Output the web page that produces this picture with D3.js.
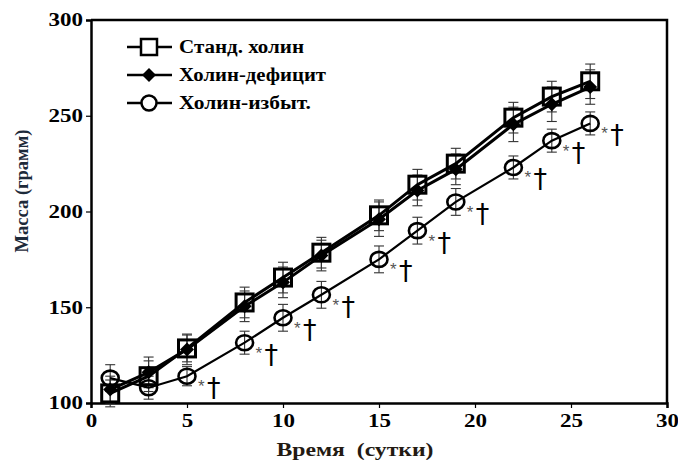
<!DOCTYPE html>
<html>
<head>
<meta charset="utf-8">
<script src="https://cdn.jsdelivr.net/npm/d3@7"></script>
<style>
  body { margin: 0; background: #fff; }
  text { font-family: "Liberation Serif", "DejaVu Serif", serif; }
</style>
</head>
<body>
<div id="chart"></div>
<script>
// days of measurement
const days = [1, 3, 5, 8, 10, 12, 15, 17, 19, 22, 24, 26];

// mean body mass, g
const standard = [105, 114, 128.5, 152.5, 165.5, 178.5, 198, 214, 225, 249, 260, 268];
const deficit  = [107, 116, 128, 150.5, 163, 177, 196, 211, 222, 245.5, 256, 265];
const excess   = [113, 108, 114, 131.5, 144.5, 156.5, 175, 190, 205, 223, 237, 246];

// error bars (+/-)
const standardErr = [7, 8, 7, 8, 8, 8, 8, 8, 8, 8, 8, 9];
const deficitErr  = [7, 8, 8, 8, 8, 8, 9, 8, 8, 9, 9, 9];
const excessErr   = [7, 6, 5, 6, 7, 7, 7, 7, 7, 6, 6, 6];

// days where "*†" marks are drawn next to the excess series
const markedDays = [5, 8, 10, 12, 15, 17, 19, 22, 24, 26];

const xTicks = [0, 5, 10, 15, 20, 25, 30];
const yTicks = [100, 150, 200, 250, 300];

const width = 678, height = 461;
const margin = {top: 20, right: 11, bottom: 58, left: 91};

const svg = d3.select("#chart").append("svg")
    .attr("width", width)
    .attr("height", height);

const x = d3.scaleLinear().domain([0, 30]).range([margin.left, width - margin.right]);
const y = d3.scaleLinear().domain([100, 300]).range([height - margin.bottom, margin.top]);

// frame (top + right)
svg.append("path")
    .attr("d", `M${x(0)},${y(300)}H${x(30)}V${y(100)}`)
    .attr("fill", "none")
    .attr("stroke", "#000")
    .attr("stroke-width", 2.5);

// axes
const xAxis = svg.append("g")
    .attr("transform", `translate(0,${y(100)})`)
    .call(d3.axisBottom(x).tickValues(xTicks).tickSize(5).tickPadding(6));
const yAxis = svg.append("g")
    .attr("transform", `translate(${x(0)},0)`)
    .call(d3.axisLeft(y).tickValues(yTicks).tickSize(5).tickPadding(3));

[xAxis, yAxis].forEach(function(g) {
    g.select(".domain").attr("stroke-width", 2.5);
    g.selectAll(".tick line").attr("stroke-width", 1.2);
    g.selectAll(".tick text")
        .style("font-family", "'Liberation Serif', serif")
        .style("font-weight", "bold")
        .style("font-size", "18px")
        .attr("fill", "#000")
        .attr("textLength", function(d) { return String(d).length * 11.5; })
        .attr("lengthAdjust", "spacingAndGlyphs");
});

// axis titles
svg.append("text")
    .attr("transform", `translate(28, 191) rotate(-90)`)
    .attr("text-anchor", "middle")
    .style("font-weight", "bold")
    .style("font-size", "18px")
    .attr("fill", "#1d2a3a")
    .attr("textLength", 123)
    .attr("lengthAdjust", "spacingAndGlyphs")
    .text("Масса (грамм)");

svg.append("text")
    .attr("x", 355)
    .attr("y", 456)
    .attr("text-anchor", "middle")
    .style("font-weight", "bold")
    .style("font-size", "19px")
    .style("white-space", "pre")
    .attr("fill", "#231a12")
    .attr("textLength", 157)
    .attr("lengthAdjust", "spacingAndGlyphs")
    .text("Время  (сутки)");

const line = d3.line()
    .x(function(d) { return x(d[0]); })
    .y(function(d) { return y(d[1]); });

function errorBars(vals, errs) {
    let g = svg.append("g").attr("stroke", "#333").attr("stroke-width", 1.1);
    days.forEach(function(d, i) {
        let cx = x(d);
        g.append("line").attr("x1", cx).attr("x2", cx)
            .attr("y1", y(vals[i] - errs[i])).attr("y2", y(vals[i] + errs[i]));
        [vals[i] - errs[i], vals[i] + errs[i]].forEach(function(v) {
            g.append("line").attr("x1", cx - 5).attr("x2", cx + 5)
                .attr("y1", y(v)).attr("y2", y(v));
        });
    });
}

errorBars(excess, excessErr);
errorBars(deficit, deficitErr);
errorBars(standard, standardErr);

// excess series line
svg.append("path")
    .datum(days.map(function(d, i) { return [d, excess[i]]; }))
    .attr("fill", "none").attr("stroke", "#000").attr("stroke-width", 2.2)
    .attr("d", line);

// deficit
svg.append("path")
    .datum(days.map(function(d, i) { return [d, deficit[i]]; }))
    .attr("fill", "none").attr("stroke", "#000").attr("stroke-width", 3)
    .attr("d", line);

// standard
svg.append("path")
    .datum(days.map(function(d, i) { return [d, standard[i]]; }))
    .attr("fill", "none").attr("stroke", "#000").attr("stroke-width", 3)
    .attr("d", line);

const diamond = "M0,-7L7,0L0,7L-7,0Z";

// markers: diamonds
svg.append("g").selectAll("path")
    .data(days)
    .enter().append("path")
    .attr("d", diamond)
    .attr("transform", function(d, i) { return `translate(${x(d)},${y(deficit[i])})`; })
    .attr("fill", "#000");

// circles
svg.append("g").selectAll("ellipse")
    .data(days)
    .enter().append("ellipse")
    .attr("cx", function(d) { return x(d); })
    .attr("cy", function(d, i) { return y(excess[i]); })
    .attr("rx", 8.5).attr("ry", 7.5)
    .attr("fill", "none")
    .attr("stroke", "#000")
    .attr("stroke-width", 2.6);

// squares
svg.append("g").selectAll("rect")
    .data(days)
    .enter().append("rect")
    .attr("x", function(d) { return x(d) - 8.5; })
    .attr("y", function(d, i) { return y(standard[i]) - 8.5; })
    .attr("width", 17).attr("height", 17)
    .attr("fill", "none")
    .attr("stroke", "#000")
    .attr("stroke-width", 3);

// significance marks
let marks = svg.append("g");
markedDays.forEach(function(d) {
    let i = days.indexOf(d);
    let cx = x(d), cy = y(excess[i]);
    marks.append("text")
        .attr("x", cx + 11).attr("y", cy + 16)
        .style("font-family", "'Liberation Sans', sans-serif")
        .style("font-size", "17px")
        .attr("fill", "#555")
        .text("*");
    marks.append("text")
        .attr("x", cx + 20).attr("y", cy + 21)
        .style("font-family", "'DejaVu Sans', sans-serif")
        .style("font-size", "27px")
        .attr("fill", "#000")
        .text("†");
});

// legend
const legendItems = ["Станд. холин", "Холин-дефицит", "Холин-избыт."];
const legendWidths = [125, 147, 132];
let legend = svg.append("g");
legendItems.forEach(function(name, i) {
    let ly = 47 + i * 28;
    legend.append("line")
        .attr("x1", 127).attr("x2", 172).attr("y1", ly).attr("y2", ly)
        .attr("stroke", "#000").attr("stroke-width", 2.5);
    if (i === 0) {
        legend.append("rect").attr("x", 141).attr("y", ly - 8).attr("width", 16).attr("height", 16)
            .attr("fill", "#fff").attr("stroke", "#000").attr("stroke-width", 2.5);
    } else if (i === 1) {
        legend.append("path").attr("d", diamond).attr("transform", `translate(149,${ly})`).attr("fill", "#000");
    } else {
        legend.append("circle").attr("cx", 149).attr("cy", ly).attr("r", 7.5)
            .attr("fill", "#fff").attr("stroke", "#000").attr("stroke-width", 2.5);
    }
    legend.append("text")
        .attr("x", 179).attr("y", ly + 6)
        .style("font-weight", "bold")
        .style("font-size", "18px")
        .attr("textLength", legendWidths[i])
        .attr("lengthAdjust", "spacingAndGlyphs")
        .text(name);
});
</script>
</body>
</html>
